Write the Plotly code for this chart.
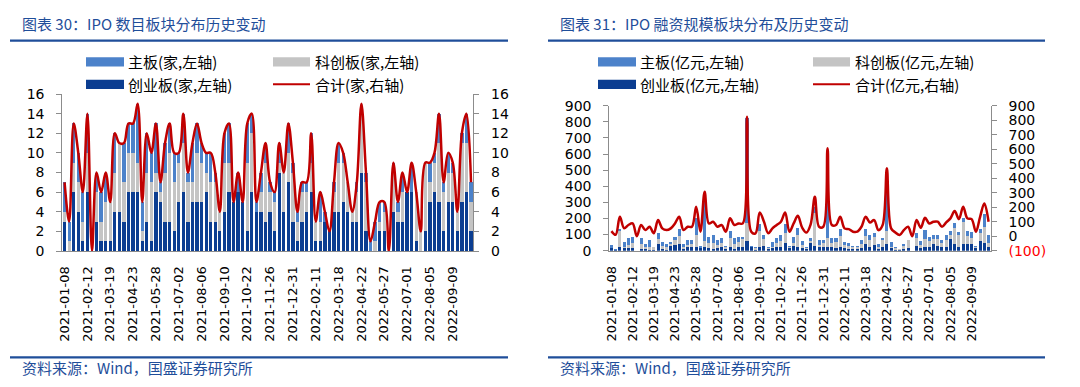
import plotly.graph_objects as go

# ---------------- data ----------------
dates = [
    "2021-01-08", "2021-01-15", "2021-01-22", "2021-01-29", "2021-02-05",
    "2021-02-12", "2021-02-19", "2021-02-26", "2021-03-05", "2021-03-12",
    "2021-03-19", "2021-03-26", "2021-04-02", "2021-04-09", "2021-04-16",
    "2021-04-23", "2021-04-30", "2021-05-07", "2021-05-14", "2021-05-21",
    "2021-05-28", "2021-06-04", "2021-06-11", "2021-06-18", "2021-06-25",
    "2021-07-02", "2021-07-09", "2021-07-16", "2021-07-23", "2021-07-30",
    "2021-08-06", "2021-08-13", "2021-08-20", "2021-08-27", "2021-09-03",
    "2021-09-10", "2021-09-17", "2021-09-24", "2021-10-08", "2021-10-15",
    "2021-10-22", "2021-10-29", "2021-11-05", "2021-11-12", "2021-11-19",
    "2021-11-26", "2021-12-03", "2021-12-10", "2021-12-17", "2021-12-24",
    "2021-12-31", "2022-01-07", "2022-01-14", "2022-01-21", "2022-01-28",
    "2022-02-11", "2022-02-18", "2022-02-25", "2022-03-04", "2022-03-11",
    "2022-03-18", "2022-03-25", "2022-04-01", "2022-04-08", "2022-04-15",
    "2022-04-22", "2022-04-29", "2022-05-06", "2022-05-13", "2022-05-20",
    "2022-05-27", "2022-06-03", "2022-06-10", "2022-06-17", "2022-06-24",
    "2022-07-01", "2022-07-08", "2022-07-15", "2022-07-22", "2022-07-29",
    "2022-08-05", "2022-08-12", "2022-08-19", "2022-08-26", "2022-09-02",
    "2022-09-09", "2022-09-16", "2022-09-23", "2022-09-30", "2022-10-14",
]
tick_labels = dates[::5]

# IPO counts (家)
cnt_main = [3, 2, 4, 3, 3, 4, 0, 2, 3, 3, 0, 4, 0, 4, 3, 3, 6, 3, 4, 3,
            5, 1, 3, 3, 3, 1, 3, 1, 4, 3, 2, 2, 3, 1, 0, 3, 4, 0, 2, 0,
            4, 2, 1, 2, 2, 1, 1, 2, 0, 3, 1, 1, 1, 1, 3, 0, 3, 1, 0, 1,
            2, 1, 0, 0, 1, 0, 1, 1, 2, 2, 1, 0, 1, 1, 2, 0, 3, 0, 0, 0,
            2, 1, 3, 1, 2, 1, 0, 1, 3, 2]
cnt_star = [1, 1, 3, 3, 2, 4, 0, 3, 2, 4, 4, 4, 7, 4, 4, 4, 3, 1, 5, 6,
            2, 1, 5, 7, 5, 4, 5, 4, 2, 5, 4, 2, 4, 4, 2, 5, 3, 0, 0, 0,
            7, 6, 0, 2, 6, 2, 3, 1, 4, 3, 5, 2, 3, 2, 3, 2, 2, 0, 0, 2,
            5, 4, 3, 1, 3, 7, 5, 0, 1, 1, 2, 0, 4, 1, 3, 0, 0, 5, 2, 7,
            2, 3, 6, 4, 3, 3, 2, 6, 5, 3]
cnt_gem = [3, 0, 6, 4, 1, 6, 0, 3, 1, 1, 1, 4, 4, 3, 6, 6, 6, 1, 3, 1,
           6, 5, 3, 3, 2, 5, 6, 3, 5, 5, 5, 6, 3, 3, 2, 4, 6, 5, 6, 5,
           2, 6, 4, 4, 3, 4, 2, 8, 4, 7, 3, 1, 3, 4, 6, 1, 1, 3, 2, 4,
           4, 5, 4, 3, 3, 8, 2, 0, 0, 2, 2, 0, 4, 3, 3, 6, 6, 1, 0, 2,
           5, 6, 5, 2, 5, 5, 2, 5, 6, 2]

# IPO amounts (亿元)
amt_main = [20, 5, 14, 30, 42, 43, 0, 37, 22, 40, 0, 41, 24, 17, 14, 23, 44, 22, 30, 25,
            103, 16, 247, 43, 50, 30, 32, 6, 43, 37, 33, 18, 654, 11, 5, 44, 30, 5, 29, 32,
            40, 54, 11, 38, 41, 25, 10, 20, 40, 30, 20, 526, 27, 22, 44, 19, 19, 11, 11, 25,
            44, 30, 26, 22, 12, 348, 29, 11, 0, 12, 0, 0, 31, 23, 52, 28, 30, 30, 20, 30,
            23, 33, 18, 23, 33, 38, 6, 24, 76, 50]
amt_star = [0, 0, 100, 10, 20, 30, 0, 30, 10, 20, 15, 30, 20, 20, 10, 30, 50, 10, 15, 20,
            80, 0, 40, 30, 40, 20, 20, 15, 60, 30, 30, 50, 110, 0, 10, 100, 40, 5, 10, 25,
            40, 60, 5, 20, 80, 20, 5, 10, 200, 15, 20, 60, 30, 40, 70, 20, 20, 10, 10, 25,
            50, 40, 50, 10, 40, 80, 10, 10, 3, 20, 50, 0, 50, 20, 50, 40, 30, 40, 25, 40,
            30, 100, 80, 140, 50, 40, 10, 50, 100, 30]
amt_gem = [15, 5, 20, 15, 15, 15, 0, 10, 10, 5, 5, 40, 10, 5, 30, 35, 40, 10, 20, 20,
           20, 15, 20, 15, 10, 15, 25, 10, 20, 10, 25, 20, 60, 20, 5, 20, 30, 10, 15, 20,
           20, 50, 15, 30, 20, 15, 10, 50, 32, 20, 25, 20, 20, 15, 20, 15, 10, 10, 10, 15,
           40, 25, 35, 10, 25, 40, 15, 5, 5, 10, 15, 0, 30, 15, 25, 20, 40, 30, 20, 25,
           70, 40, 20, 40, 40, 40, 15, 60, 50, 20]

# ---------------- style ----------------
W, H = 1080, 387
C_MAIN = "#4C82CA"
C_STAR = "#C4C4C4"
C_GEM = "#0B3D91"
C_LINE = "#C00000"
BLUE = "#1F4E9A"
AX = "#8C8C8C"
NUM_FONT = "DejaVu Sans"
CJK_FONT = "Noto Sans CJK SC"


def fx(x):
    return x / W


def fy(y):
    return 1 - y / H


fig = go.Figure()


def add_panel(main, star, gem, xa, ya, ya2):
    total = [a + b + c for a, b, c in zip(main, star, gem)]
    fig.add_trace(go.Bar(x=dates, y=gem, marker=dict(color=C_GEM, line=dict(width=0)),
                         xaxis=xa, yaxis=ya, showlegend=False))
    fig.add_trace(go.Bar(x=dates, y=star, marker=dict(color=C_STAR, line=dict(width=0)),
                         xaxis=xa, yaxis=ya, showlegend=False))
    fig.add_trace(go.Bar(x=dates, y=main, marker=dict(color=C_MAIN, line=dict(width=0)),
                         xaxis=xa, yaxis=ya, showlegend=False))
    fig.add_trace(go.Scatter(x=dates, y=total, mode="lines",
                             line=dict(color=C_LINE, width=2.5, shape="spline", smoothing=1.0),
                             xaxis=xa, yaxis=ya2, showlegend=False))


add_panel(cnt_main, cnt_star, cnt_gem, "x", "y", "y2")
add_panel(amt_main, amt_star, amt_gem, "x2", "y3", "y4")

tickfont = dict(family=NUM_FONT, size=14, color="black")
xcommon = dict(type="category", range=[-0.5, len(dates) - 0.5], tickmode="array",
               tickvals=tick_labels, ticktext=tick_labels, tickangle=-90,
               tickfont=dict(family=NUM_FONT, size=13, color="black"),
               showline=True, linecolor=AX, linewidth=1, ticks="", showgrid=False,
               zeroline=False, ticklabelstandoff=9, fixedrange=True, automargin=False)
ycommon = dict(showline=True, linecolor=AX, linewidth=1, ticks="outside", ticklen=5,
               tickcolor=AX, showgrid=False, zeroline=False, tickfont=tickfont,
               ticklabelstandoff=9, fixedrange=True, automargin=False)

right_ticks = list(range(-100, 1000, 100))
right_text = ["<span style='color:#FF0000'>(100)</span>"] + [str(v) for v in right_ticks[1:]]

fig.update_layout(
    width=W, height=H, autosize=False,
    margin=dict(l=0, r=0, t=0, b=0, pad=0),
    paper_bgcolor="white", plot_bgcolor="white",
    barmode="stack", bargap=0.28,
    xaxis=dict(domain=[fx(62.3), fx(473.3)], anchor="y", **xcommon),
    yaxis=dict(domain=[fy(251), fy(94)], anchor="x", range=[0, 16], dtick=2, tick0=0, **ycommon),
    yaxis2=dict(overlaying="y", anchor="x", side="right", range=[0, 16], dtick=2, tick0=0, **ycommon),
    xaxis2=dict(domain=[fx(609.3), fx(990.7)], anchor="y3", **xcommon),
    yaxis3=dict(domain=[fy(250.7), fy(105.7)], anchor="x2", range=[0, 900], dtick=100, tick0=0, **ycommon),
    yaxis4=dict(overlaying="y3", anchor="x2", side="right", range=[-100, 900],
                tickmode="array", tickvals=right_ticks, ticktext=right_text, **ycommon),
)

shapes = []
annots = []


def hline(x0, x1, y, color, width):
    shapes.append(dict(type="line", xref="paper", yref="paper", x0=fx(x0), x1=fx(x1),
                       y0=fy(y), y1=fy(y), line=dict(color=color, width=width)))


def rect(x0, x1, y0, y1, color):
    shapes.append(dict(type="rect", xref="paper", yref="paper", x0=fx(x0), x1=fx(x1),
                       y0=fy(y1), y1=fy(y0), fillcolor=color, line=dict(width=0)))


def text(x, y, s, size=15, color="black"):
    annots.append(dict(x=fx(x), y=fy(y), xref="paper", yref="paper", text=s,
                       showarrow=False, xanchor="left", yanchor="middle",
                       borderpad=0, borderwidth=0,
                       font=dict(family=CJK_FONT, size=size, color=color)))


# titles, rules, footers
for x0, x1, tx, title in [(10, 508, 22, "图表 30：IPO 数目板块分布历史变动"),
                          (548, 1045, 560, "图表 31：IPO 融资规模板块分布及历史变动")]:
    text(tx, 23.5, title, size=15, color=BLUE)
    hline(x0, x1, 40.7, BLUE, 2.2)
    hline(x0, x1, 357.3, BLUE, 2.2)
    text(tx, 367.5, "资料来源：Wind，国盛证券研究所", size=15, color=BLUE)

# legends
legend_sets = [
    (86, 273, ["主板(家,左轴)", "科创板(家,左轴)", "创业板(家,左轴)", "合计(家,右轴)"]),
    (598, 813, ["主板(亿元,左轴)", "科创板(亿元,左轴)", "创业板(亿元,左轴)", "合计(亿元,右轴)"]),
]
for xa, xb, labels in legend_sets:
    rect(xa, xa + 38, 57.2, 66.5, C_MAIN)
    text(xa + 42, 61.7, labels[0])
    rect(xb, xb + 37, 57.2, 66.5, C_STAR)
    text(xb + 42, 61.7, labels[1])
    rect(xa, xa + 38, 79.8, 89.0, C_GEM)
    text(xa + 42, 84.3, labels[2])
    hline(xb, xb + 37, 84.3, C_LINE, 2)
    text(xb + 42, 84.3, labels[3])

fig.update_layout(shapes=shapes, annotations=annots)
fig.write_html("out.html",
               config={"displayModeBar": False, "staticPlot": True},
               post_script="document.body.style.margin='0';document.body.style.padding='0';")
